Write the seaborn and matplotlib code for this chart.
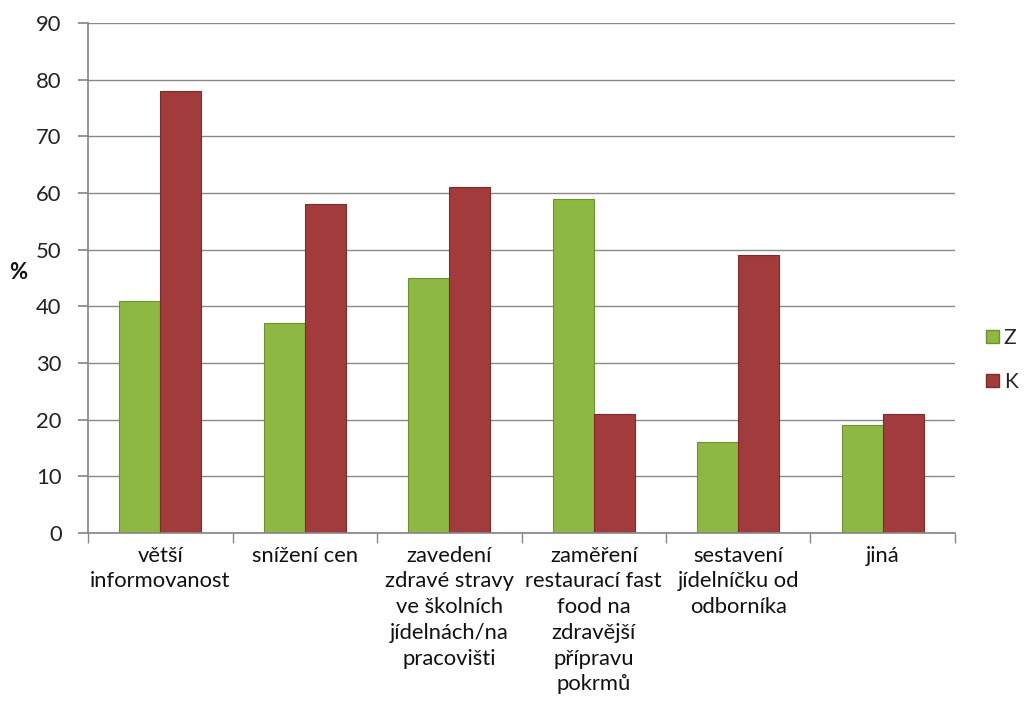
import numpy as np
import pandas as pd
import matplotlib
matplotlib.use("Agg")
import matplotlib.pyplot as plt
import seaborn as sns
from matplotlib.patches import Patch

categories = ["větší\ninformovanost", "snížení cen",
              "zavedení\nzdravé stravy\nve školních\njídelnách/na\npracovišti",
              "zaměření\nrestaurací fast\nfood na\nzdravější\npřípravu\npokrmů",
              "sestavení\njídelníčku od\nodborníka", "jiná"]
series_names = ["Z", "K"]
values_Z = [41, 37, 45, 59, 16, 19]
values_K = [78, 58, 61, 21, 49, 21]
y_ticks = [0, 10, 20, 30, 40, 50, 60, 70, 80, 90]

colors = {"Z": "#8db843", "K": "#a23b3b"}
edges = {"Z": "#6e9130", "K": "#7d2c2c"}

df = pd.DataFrame({
    "cat": categories * 2,
    "series": ["Z"] * len(categories) + ["K"] * len(categories),
    "val": values_Z + values_K,
})

sns.set_theme(style="white")
plt.rcParams["font.family"] = ["Lato", "DejaVu Sans"]
FS = 15.8

fig = plt.figure(figsize=(10.25, 7.02), dpi=100)
ax = fig.add_axes([88/1025, 1-533/702, (955-88)/1025, (533-23)/702])

sns.barplot(data=df, x="cat", y="val", hue="series", order=categories,
            hue_order=series_names, palette=colors, width=0.57, gap=0,
            ax=ax, legend=False, saturation=1)

for cont, s in zip(ax.containers, series_names):
    for p in cont.patches:
        p.set_edgecolor(edges[s])
        p.set_linewidth(0.8)

ax.set_ylim(0, 90)
ax.set_xlim(-0.5, len(categories) - 0.5)
ax.set_yticks(y_ticks)
ax.yaxis.grid(True, color="#888888", linewidth=1.0)
ax.set_axisbelow(True)
for side in ["top", "right"]:
    ax.spines[side].set_visible(False)
ax.spines["left"].set_color("#888888")
ax.spines["bottom"].set_color("#888888")

ax.tick_params(axis="y", which="major", length=7, color="#888888",
               labelsize=FS, labelcolor="#222222", pad=12, left=True)
ax.set_xticks(range(len(categories)))
ax.set_xticklabels(categories, fontsize=FS, color="#111111", linespacing=1.36)
ax.tick_params(axis="x", which="major", length=0, pad=9)
ax.set_xticks(np.arange(-0.5, len(categories), 1.0), minor=True)
ax.tick_params(axis="x", which="minor", length=7, color="#888888", bottom=True)

ax.set_xlabel("")
ax.set_ylabel("%", rotation=0, fontsize=FS, color="#111111", fontweight="bold")
ax.yaxis.set_label_coords(-0.08, 0.49)

handles = [Patch(facecolor=colors[s], edgecolor=edges[s], label=s) for s in series_names]
fig.legend(handles=handles, loc="center left", bbox_to_anchor=(0.962, 0.487),
           frameon=False, fontsize=15, handlelength=0.6, handleheight=0.6,
           handletextpad=0.25, labelspacing=1.15, borderpad=0, borderaxespad=0)

fig.savefig("out.png", dpi=100)
